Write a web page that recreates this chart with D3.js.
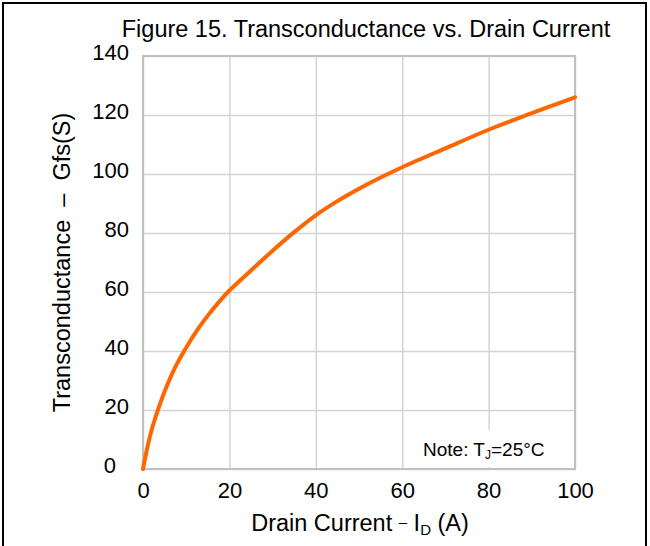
<!DOCTYPE html>
<html>
<head>
<meta charset="utf-8">
<script src="https://cdn.jsdelivr.net/npm/d3@7"></script>
<style>
  html, body { margin: 0; padding: 0; background: #fff; }
  svg { display: block; font-family: "Liberation Sans", Arial, sans-serif; }
</style>
</head>
<body>
<svg id="chart" width="650" height="546"></svg>
<script>
const titleText = "Figure 15. Transconductance vs. Drain Current";
const drainCurrent = [0, 1, 2, 3.5, 5, 7.5, 10, 12.5, 15, 17.5, 20, 25, 30, 35, 40, 45, 50, 55, 60, 70, 80, 90, 100];
const transconductance = [0, 7.2, 13.2, 20.2, 26.3, 34.6, 41.2, 47, 52, 56.5, 60.5, 67.3, 74, 80.3, 86, 90.8, 95, 98.8, 102.3, 108.7, 115, 120.6, 126];
const xTicks = [0, 20, 40, 60, 80, 100];
const yTicks = [0, 20, 40, 60, 80, 100, 120, 140];

const svg = d3.select("#chart");
const W = 650, H = 546;
const m = { left: 143, top: 56, right: 575, bottom: 469 };
const FONT = "Liberation Sans, Arial, sans-serif";

// frame
svg.append("path")
  .attr("d", `M3,${H} L3,3 L646,3 L646,${H}`)
  .attr("fill", "none").attr("stroke", "#000").attr("stroke-width", 2);

const x = d3.scaleLinear().domain([0, 100]).range([m.left, m.right]);
const y = d3.scaleLinear().domain([0, 140]).range([m.bottom, m.top]);

// grid
const grid = svg.append("g");
grid.append("g")
  .attr("transform", `translate(0,${m.bottom})`)
  .call(d3.axisBottom(x).tickValues(xTicks).tickSize(-(m.bottom - m.top)).tickFormat(""))
  .call(g => g.select(".domain").remove())
  .call(g => g.selectAll(".tick line").attr("stroke", "#d4d4d4").attr("stroke-width", 1.5));
grid.append("g")
  .attr("transform", `translate(${m.left},0)`)
  .call(d3.axisLeft(y).tickValues(yTicks).tickSize(-(m.right - m.left)).tickFormat(""))
  .call(g => g.select(".domain").remove())
  .call(g => g.selectAll(".tick line").attr("stroke", "#d4d4d4").attr("stroke-width", 1.5));

// note box (covers grid)
svg.append("rect")
  .attr("x", x(61)).attr("y", 430)
  .attr("width", m.right - x(61)).attr("height", 37)
  .attr("fill", "#fff");

// plot border
svg.append("rect")
  .attr("x", m.left).attr("y", m.top)
  .attr("width", m.right - m.left).attr("height", m.bottom - m.top)
  .attr("fill", "none").attr("stroke", "#c0c0c0").attr("stroke-width", 2);

// tick labels
svg.append("g")
  .attr("transform", `translate(0,${m.bottom})`)
  .call(d3.axisBottom(x).tickValues(xTicks).tickSize(0).tickPadding(0))
  .call(g => g.select(".domain").remove())
  .call(g => g.selectAll("text")
    .attr("dy", null).attr("y", 29)
    .attr("font-size", 22).attr("fill", "#000")
    .attr("font-family", FONT));

svg.append("g")
  .attr("transform", `translate(${m.left},0)`)
  .call(d3.axisLeft(y).tickValues(yTicks).tickSize(0).tickPadding(0))
  .call(g => g.select(".domain").remove())
  .call(g => g.selectAll("text")
    .attr("x", d => d === 0 ? -27 : -14)
    .attr("dy", "0.15em")
    .attr("font-size", 22).attr("fill", "#000")
    .attr("font-family", FONT));

// curve
const line = d3.line()
  .x((d, i) => x(drainCurrent[i]))
  .y(d => y(d))
  .curve(d3.curveCatmullRom.alpha(0.5));
svg.append("path")
  .datum(transconductance)
  .attr("d", line)
  .attr("fill", "none")
  .attr("stroke", "#ff6600")
  .attr("stroke-width", 4)
  .attr("stroke-linecap", "round");

// title
svg.append("text")
  .attr("x", 366).attr("y", 37)
  .attr("text-anchor", "middle")
  .attr("font-size", 23.5)
  .text(titleText);

// x-axis title
const xt = svg.append("text")
  .attr("x", 360).attr("y", 531)
  .attr("text-anchor", "middle")
  .attr("font-size", 23.5)
  .attr("xml:space", "preserve");
xt.append("tspan").text("Drain Current ");
xt.append("tspan").attr("font-size", 15).attr("dy", -4).text("\u2013");
xt.append("tspan").attr("dy", 4).text(" I");
xt.append("tspan").attr("font-size", 15).attr("dy", 4).text("D");
xt.append("tspan").attr("dy", -4).text(" (A)");

// y-axis title
svg.append("text")
  .attr("transform", `translate(70,${(m.top + m.bottom) / 2}) rotate(-90)`)
  .attr("text-anchor", "middle")
  .attr("font-size", 23.5)
  .attr("xml:space", "preserve")
  .text("Transconductance  \u2013  Gfs(S)");

// note
const note = svg.append("text")
  .attr("x", 423).attr("y", 456)
  .attr("font-size", 19);
note.append("tspan").text("Note: T");
note.append("tspan").attr("font-size", 12).attr("dy", 3).text("J");
note.append("tspan").attr("dy", -3).text("=25\u00b0C");
</script>
</body>
</html>
